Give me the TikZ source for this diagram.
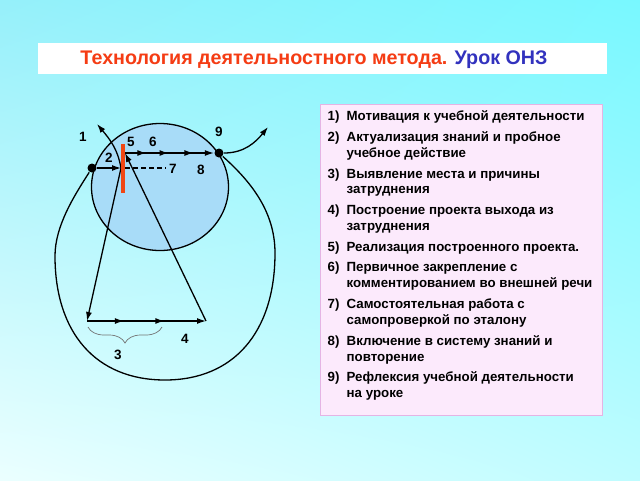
\documentclass[tikz,border=0pt]{standalone}
\usepackage{fontspec}
\setmainfont{Liberation Sans}
\usetikzlibrary{positioning,arrows.meta,decorations.markings,decorations.pathreplacing,shadings}

\definecolor{rossotitolo}{RGB}{245,60,20}
\definecolor{blutitolo}{RGB}{50,50,190}
\definecolor{barrarossa}{RGB}{240,70,20}
\definecolor{azzurro}{RGB}{168,220,248}
\definecolor{rosa}{RGB}{252,234,252}
\definecolor{bordorosa}{RGB}{228,180,228}
\definecolor{sfondoA}{RGB}{150,240,250}
\definecolor{sfondoB}{RGB}{120,248,255}
\definecolor{sfondoC}{RGB}{235,255,255}
\definecolor{sfondoD}{RGB}{190,252,255}

\tikzset{
    num/.style={font=\fontsize{13.5}{16}\selectfont\bfseries},
    voce/.style={font=\fontsize{13.3}{16}\selectfont\bfseries, inner sep=0pt, anchor=base west},
    dot/.style={circle, fill=black, inner sep=0pt, minimum size=9pt},
    arr/.style={-{Latex[length=9pt,width=6pt]}},
    midarr/.style={postaction={decorate, decoration={markings,
        mark=at position #1 with {\arrow{Latex[length=9pt,width=6pt]}}}}},
    graffa/.style={decorate, decoration={brace, mirror, amplitude=16pt}, draw=black!55, line width=0.7pt}
}

\begin{document}
\begin{tikzpicture}[x=1pt, y=1pt, line width=1.3pt]
    % Sfondo e riquadri
    \shade[upper left=sfondoA, upper right=sfondoB, lower left=sfondoC, lower right=sfondoD]
        (0,0) rectangle (640,-480);
    \useasboundingbox (0,0) rectangle (640,-480);
    \fill[white] (38,-43) rectangle (607,-74);
    \node[font=\fontsize{19.7}{22}\selectfont\bfseries] (titolo) at (314,-59.5)
        {\textcolor{rossotitolo}{Технология деятельностного метода.} \textcolor{blutitolo}{Урок ОНЗ}};
    \draw[fill=rosa, draw=bordorosa, line width=1pt] (320,-104) rectangle (602,-415);

    % Cerchio azzurro
    \draw[fill=azzurro] (160,-187) ellipse [x radius=68.5, y radius=63.5];

    % Punti dello schema
    \node[dot] (A) at (92,-168) {};
    \node[dot] (B) at (219,-153) {};
    \coordinate (C)  at (121,-168);
    \coordinate (P5) at (125,-153);
    \coordinate (BL) at (87,-321);
    \coordinate (BR) at (206,-321);
    \coordinate (T1) at (97,-124);
    \coordinate (T9) at (268,-127);
    \coordinate (D7) at (166,-168);
    \coordinate (L)  at (55,-256);
    \coordinate (R)  at (275,-253);
    \coordinate (F)  at (165,-380);
    \coordinate (G1) at (88,-327);
    \coordinate (G2) at (162,-327);

    % Curva esterna
    \draw (A) .. controls (74,-196) and (55,-226) .. (L)
              .. controls (55,-333) and (96,-380) .. (F)
              .. controls (233,-380) and (275,-333) .. (R)
              .. controls (275,-210) and (249,-180) .. (B);

    % Collegamenti
    \draw[arr] (A) -- (C);
    \draw[dash pattern=on 5pt off 3pt] ([xshift=4pt]C) -- (D7);
    \draw[arr] (C) to[out=100, in=-50] (T1);
    \draw[arr] (C) -- (BL);
    \draw[arr, midarr=0.31, midarr=0.65] (BL) -- (BR);
    \draw[arr] (BR) -- (P5);
    \draw[arr, midarr=0.24, midarr=0.49, midarr=0.77] (P5) -- (B);
    \draw[arr] (B) to[out=0, in=231] (T9);
    \draw[graffa] (G1) -- (G2);

    % Barra rossa
    \draw[barrarossa, line width=3.5pt] (123,-144) -- (123,-193);

    % Numeri dello schema
    \foreach \n/\x/\y in {1/83/137, 2/109/158, 3/118/355, 4/185/339, 5/131/142,
                          6/153/142, 7/173/169, 8/201/170, 9/219/132} {
        \node[num] (n\n) at (\x,-\y) {\n};
    }

    % Elenco delle fasi
    \foreach \k/\y in {1/116, 2/137, 3/174, 4/210, 5/247, 6/267, 7/304, 8/341, 9/377} {
        \node[voce] (k\k) at (327,-\y-4.5) {\k)};
    }
    \foreach \y/\t [count=\i] in {
        116/Мотивация к учебной деятельности,
        137/Актуализация знаний и пробное,
        153/учебное действие,
        174/Выявление места и причины,
        189/затруднения,
        210/Построение проекта выхода из,
        226/затруднения,
        247/Реализация построенного проекта.,
        267/Первичное закрепление с,
        283/комментированием во внешней речи,
        304/Самостоятельная работа с,
        320/самопроверкой по эталону,
        341/Включение в систему знаний и,
        357/повторение,
        377/Рефлексия учебной деятельности,
        393/на уроке} {
        \node[voce] (r\i) at (346,-\y-4.5) {\t};
    }
\end{tikzpicture}
\end{document}
